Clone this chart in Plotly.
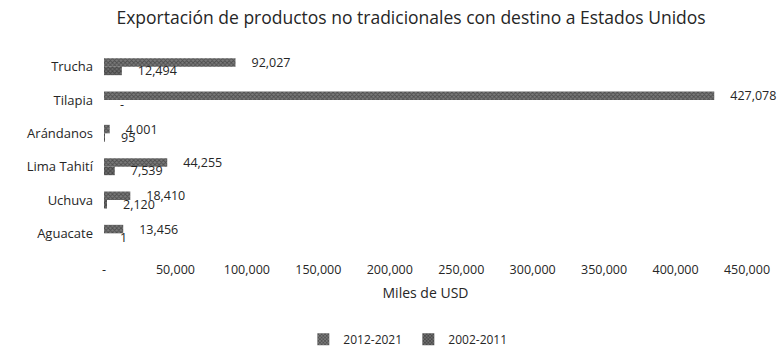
import plotly.graph_objects as go

# Export data (thousands of USD)
productos = ["Trucha", "Tilapia", "Arándanos", "Lima Tahití", "Uchuva", "Aguacate"]
valores_2012_2021 = [92027, 427078, 4001, 44255, 18410, 13456]
valores_2002_2011 = [12494, 0, 95, 7539, 2120, 1]
series = ["2012-2021", "2002-2011"]
tick_vals = [0, 50000, 100000, 150000, 200000, 250000, 300000, 350000, 400000, 450000]
tick_text = ["-", "50,000", "100,000", "150,000", "200,000", "250,000",
             "300,000", "350,000", "400,000", "450,000"]

FONT = "Open Sans"
TXT = "#262626"


def etiqueta(v):
    # accounting-style label: zero shown as a dash
    s = "-" if v == 0 else f"{v:,}"
    return "\u00a0\u00a0\u00a0\u00a0" + s


fig = go.Figure()
for nombre, vals, fg, bg in [
    (series[0], valores_2012_2021, "#202020", "#7a7a7a"),
    (series[1], valores_2002_2011, "#1a1a1a", "#6e6e6e"),
]:
    fig.add_trace(go.Bar(
        name=nombre,
        y=productos,
        x=vals,
        orientation="h",
        marker=dict(
            color=bg,
            line=dict(width=0),
            pattern=dict(shape="x", fgcolor=fg, bgcolor=bg, size=3, solidity=0.5),
        ),
        text=[etiqueta(v) for v in vals],
        textposition="outside",
        constraintext="none",
        textfont=dict(family=FONT, size=12.5, color=TXT),
        cliponaxis=False,
    ))

fig.update_layout(
    width=780, height=349,
    margin=dict(l=104, r=33, t=50, b=99, autoexpand=False),
    paper_bgcolor="white",
    plot_bgcolor="white",
    barmode="group",
    bargap=0.49,
    bargroupgap=0,
    font=dict(family=FONT, color=TXT),
    title=dict(
        text="Exportación de productos no tradicionales con destino a Estados Unidos",
        x=0.527, xanchor="center", y=0.948, yanchor="middle",
        font=dict(family=FONT, size=17.5, color=TXT),
    ),
    xaxis=dict(
        range=[0, 450000],
        tickvals=tick_vals,
        ticktext=tick_text,
        showgrid=False, zeroline=False, showline=False,
        automargin=False,
        ticklabelstandoff=10,
        tickfont=dict(family=FONT, size=12.5, color=TXT),
        title=dict(text="Miles de USD", font=dict(family=FONT, size=14, color=TXT), standoff=11),
    ),
    yaxis=dict(
        autorange="reversed",
        showgrid=False, zeroline=False, showline=False,
        automargin=False,
        ticklabelstandoff=10,
        tickfont=dict(family=FONT, size=13, color=TXT),
    ),
    showlegend=True,
    legend=dict(
        orientation="h", x=0.31, xanchor="left",
        yref="container", y=0.028, yanchor="middle",
        font=dict(family=FONT, size=12, color=TXT),
        itemwidth=30,
        entrywidth=60,
    ),
)

fig.write_html("out.html")
